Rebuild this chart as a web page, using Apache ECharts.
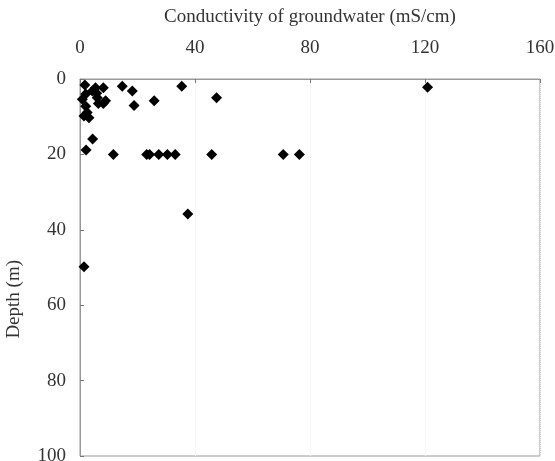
<!DOCTYPE html>
<html><head><meta charset="utf-8">
<script src="https://cdn.jsdelivr.net/npm/echarts@6/dist/echarts.min.js"></script>
<style>html,body{margin:0;padding:0;background:#fff}#c{width:555px;height:461px}</style>
</head><body><div id="c"></div>
<script>
// Conductivity (mS/cm)
const conductivity = [1.7, 4.3, 5.4, 8.1, 14.7, 18.2, 2.0, 6.0, 8.9, 0.8, 2.0, 2.5, 3.1, 1.4, 5.8, 8.1, 6.4, 18.8, 25.8, 35.4, 47.5, 120.9,
  4.4, 2.1, 11.6, 23.2, 24.2, 27.4, 30.4, 33.1, 45.8, 70.7, 76.3, 37.5, 1.4];
// Depth (m)
const depth = [1.6, 3.2, 2.3, 2.3, 1.9, 3.2, 4.0, 5.0, 5.8, 5.4, 7.2, 8.9, 10.3, 9.8, 3.8, 6.5, 6.5, 7.0, 5.8, 1.9, 5.0, 2.2,
  15.9, 18.8, 20, 20, 20, 20, 20, 20, 20, 20, 20, 35.8, 49.8];
const xTicks = [0, 40, 80, 120, 160];
const yTicks = [0, 20, 40, 60, 80, 100];

const pts = conductivity.map((c, i) => [c, depth[i]]);
const font = '"Liberation Serif", "Times New Roman", serif';
const chart = echarts.init(document.getElementById('c'));
chart.setOption({
  animation: false,
  backgroundColor: '#fff',
  grid: {left: 80, right: 15, top: 79, bottom: 5, show: true, borderColor: '#999', borderWidth: 1,
         containLabel: false, outerBoundsMode: 'none'},
  xAxis: {
    type: 'value', position: 'top', min: xTicks[0], max: xTicks[xTicks.length-1], interval: 40,
    name: 'Conductivity of groundwater (mS/cm)', nameLocation: 'middle', nameGap: 52,
    nameTextStyle: {fontFamily: font, fontSize: 19, color: '#333'},
    axisLine: {lineStyle: {color: '#999'}},
    axisTick: {inside: true, length: 4, lineStyle: {color: '#777'}},
    axisLabel: {fontFamily: font, fontSize: 19, color: '#333', margin: 21},
    splitLine: {show: true, lineStyle: {color: '#f2f2f2', type: 'dotted'}}
  },
  yAxis: {
    type: 'value', inverse: true, min: yTicks[0], max: yTicks[yTicks.length-1], interval: 20,
    axisLine: {show: true, lineStyle: {color: '#999'}},
    axisTick: {show: true, inside: true, length: 4, lineStyle: {color: '#777'}},
    axisLabel: {fontFamily: font, fontSize: 19, color: '#333', margin: 14},
    splitLine: {show: false}
  },
  graphic: [{
    type: 'text', left: 5, top: 260, rotation: Math.PI/2,
    style: {text: 'Depth (m)', fontFamily: font, fontSize: 19, fill: '#333'}
  }],
  series: [{
    type: 'scatter', symbol: 'diamond', symbolSize: 11,
    itemStyle: {color: '#000', opacity: 1}, data: pts
  }]
});
</script></body></html>
